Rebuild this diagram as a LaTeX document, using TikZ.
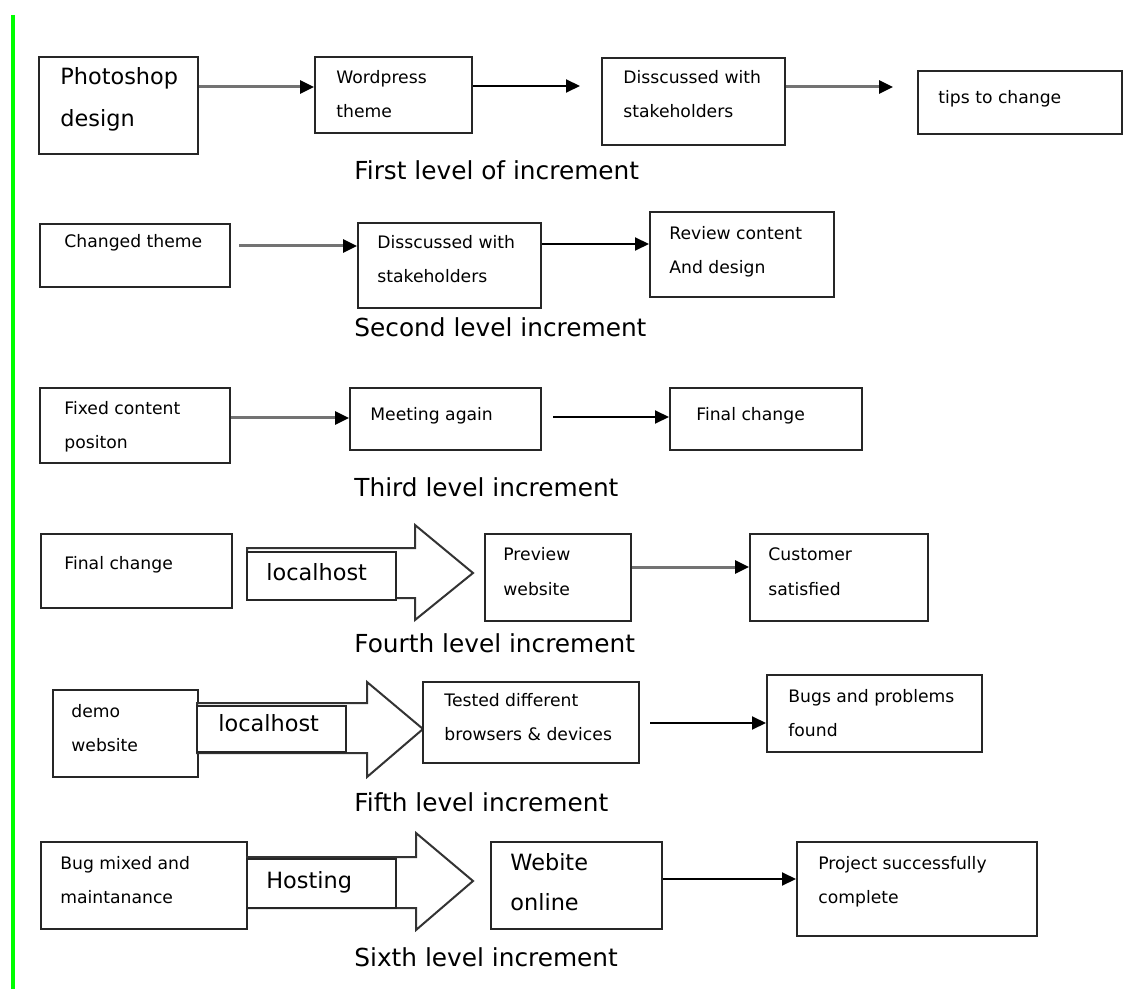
\documentclass[tikz,border=0pt]{standalone}
\usepackage{fontspec}
\usetikzlibrary{arrows.meta}
\newfontfamily\boxfont{DejaVu Sans}
\definecolor{grn}{RGB}{0,255,0}
\tikzset{
  boxst/.style={draw=black!85, line width=1pt, fill=white, rectangle, inner sep=0pt},
  txt/.style={inner sep=0pt, font={\boxfont\fontsize{8.6pt}{10pt}\selectfont}},
  bigtxt/.style={inner sep=0pt, font={\boxfont\fontsize{11.2pt}{13pt}\selectfont}},
  captxt/.style={inner sep=0pt, font={\boxfont\fontsize{12.4pt}{14pt}\selectfont}},
  garrow/.style={draw=black!55, line width=1.5pt, -{Triangle[length=7pt,width=6.5pt,color=black]}},
  barrow/.style={draw=black, line width=1pt, -{Triangle[length=7pt,width=6.5pt]}},
  blk/.style={draw=black!80, line width=1pt, fill=white, line join=miter}
}
\newcommand\bx[5]{\node[boxst, minimum width={(#4-#2)*0.5pt}, minimum height={(#5-#3)*0.5pt}] (#1) at ({(#2+#4)/2},{(#3+#5)/2}) {};}
\newcommand\tl[4]{\node[txt, anchor=base west] (#1) at (#2,#3) {#4};}
\newcommand\btl[4]{\node[bigtxt, anchor=base west] (#1) at (#2,#3) {#4};}
\begin{document}
\begin{tikzpicture}[x=0.5pt, y=-0.5pt]
\useasboundingbox (0,0) rectangle (1124,989);
\fill[white] (0,0) rectangle (1124,989);
\draw[grn, line width=2pt] (13,15) -- (13,989);

% ---------- Row 1 ----------
\bx{b11}{39}{57}{198}{154}
\btl{t11a}{60}{85}{Photoshop}
\btl{t11b}{60}{127}{design}
\bx{b12}{315}{57}{472}{133}
\tl{t12a}{336}{84}{Wordpress}
\tl{t12b}{336}{118}{theme}
\bx{b13}{602}{58}{785}{145}
\tl{t13a}{623}{84}{Disscussed with}
\tl{t13b}{623}{118}{stakeholders}
\bx{b14}{918}{71}{1122}{134}
\tl{t14a}{938}{104}{tips to change}
\coordinate (y11) at (0,87);
\coordinate (e12) at (580,86);
\coordinate (e13) at (893,87);
\draw[garrow] (b11.east |- y11) -- (b12.west |- y11);
\draw[barrow] (b12.east |- e12) -- (e12);
\draw[garrow] (b13.east |- e13) -- (e13);
\node[captxt, anchor=base west] (c1) at (354,180) {First level of increment};

% ---------- Row 2 ----------
\bx{b21}{40}{224}{230}{287}
\tl{t21a}{64}{248}{Changed theme}
\bx{b22}{358}{223}{541}{308}
\tl{t22a}{377}{249}{Disscussed with}
\tl{t22b}{377}{283}{stakeholders}
\bx{b23}{650}{212}{834}{297}
\tl{t23a}{669}{240}{Review content}
\tl{t23b}{669}{274}{And design}
\coordinate (s21) at (239,246);
\coordinate (y22) at (0,244);
\draw[garrow] (s21) -- (b22.west |- s21);
\draw[barrow] (b22.east |- y22) -- (b23.west |- y22);
\node[captxt, anchor=base west] (c2) at (354,337) {Second level increment};

% ---------- Row 3 ----------
\bx{b31}{40}{388}{230}{463}
\tl{t31a}{64}{415}{Fixed content}
\tl{t31b}{64}{449}{positon}
\bx{b32}{350}{388}{541}{450}
\tl{t32a}{370}{421}{Meeting again}
\bx{b33}{670}{388}{862}{450}
\tl{t33a}{696}{421}{Final change}
\coordinate (y31) at (0,418);
\coordinate (s32) at (553,417);
\draw[garrow] (b31.east |- y31) -- (b32.west |- y31);
\draw[barrow] (s32) -- (b33.west |- s32);
\node[captxt, anchor=base west] (c3) at (354,496) {Third level increment};

% ---------- Row 4 ----------
\bx{b41}{41}{534}{232}{608}
\tl{t41a}{64}{569}{Final change}
\draw[blk] (247,548) -- (415,548) -- (415,525) -- (473,573) -- (415,620) -- (415,598) -- (247,598) -- cycle;
\bx{h4}{247}{552}{396}{600}
\btl{th4}{266}{580}{localhost}
\bx{b42}{485}{534}{631}{621}
\tl{t42a}{503}{560}{Preview}
\tl{t42b}{503}{595}{website}
\bx{b43}{750}{534}{928}{621}
\tl{t43a}{768}{560}{Customer}
\tl{t43b}{768}{595}{satisfied}
\coordinate (y42) at (0,567);
\draw[garrow] (b42.east |- y42) -- (b43.west |- y42);
\node[captxt, anchor=base west] (c4) at (354,652) {Fourth level increment};

% ---------- Row 5 ----------
\bx{b51}{53}{690}{198}{777}
\tl{t51a}{71}{717}{demo}
\tl{t51b}{71}{751}{website}
\draw[blk] (197,703) -- (367,703) -- (367,682) -- (423,729) -- (367,777) -- (367,753) -- (197,753) -- cycle;
\bx{h5}{197}{706}{346}{752}
\btl{th5}{218}{731}{localhost}
\bx{b52}{423}{682}{639}{763}
\tl{t52a}{444}{706}{Tested different}
\tl{t52b}{444}{740}{browsers \& devices}
\bx{b53}{767}{675}{982}{752}
\tl{t53a}{788}{702}{Bugs and problems}
\tl{t53b}{788}{736}{found}
\coordinate (s53) at (650,723);
\draw[barrow] (s53) -- (b53.west |- s53);
\node[captxt, anchor=base west] (c5) at (354,811) {Fifth level increment};

% ---------- Row 6 ----------
\bx{b61}{41}{842}{247}{929}
\tl{t61a}{60}{869}{Bug mixed and}
\tl{t61b}{60}{903}{maintanance}
\draw[blk] (247,857) -- (416,857) -- (416,833) -- (473,881) -- (416,930) -- (416,908) -- (247,908) -- cycle;
\bx{h6}{247}{859}{396}{908}
\btl{th6}{266}{888}{Hosting}
\bx{b62}{491}{842}{662}{929}
\btl{t62a}{510}{870}{Webite}
\btl{t62b}{510}{910}{online}
\bx{b63}{797}{842}{1037}{936}
\tl{t63a}{818}{869}{Project successfully}
\tl{t63b}{818}{903}{complete}
\coordinate (y62) at (0,879);
\draw[barrow] (b62.east |- y62) -- (b63.west |- y62);
\node[captxt, anchor=base west] (c6) at (354,966) {Sixth level increment};
\end{tikzpicture}
\end{document}
